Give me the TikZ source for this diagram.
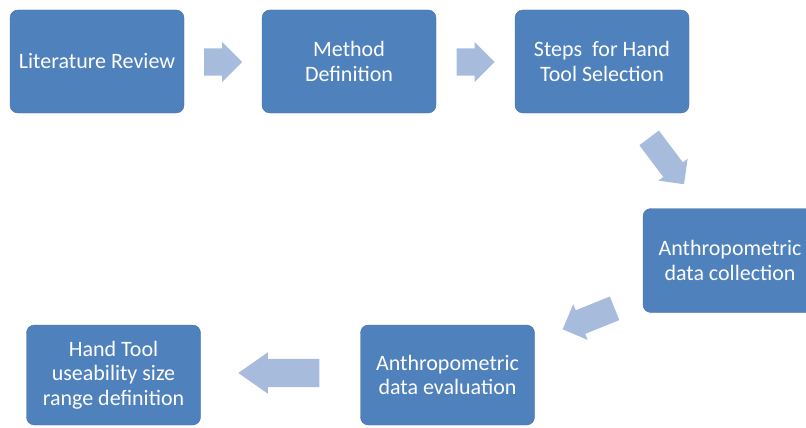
\documentclass[tikz,border=0pt]{standalone}
\usepackage{fontspec}
\setmainfont{Carlito}
\usepackage{xcolor}
\usepackage{tikz}
\usetikzlibrary{calc}
\usetikzlibrary{shapes.arrows}
\definecolor{boxColor}{RGB}{79,129,189}
\definecolor{arrowColor}{RGB}{167,187,221}

\begin{document}
\begin{tikzpicture}[x=1pt,y=-1pt,
	stage/.style={rectangle,rounded corners=8pt,draw=boxColor!85!black,thin,fill=boxColor,text=white,align=center,minimum width=174pt,minimum height=103pt,font=\fontsize{22}{24.5}\selectfont},
	flow/.style={single arrow,draw=none,fill=arrowColor,anchor=tail,inner xsep=0pt,inner ysep=13.5pt,single arrow head extend=6.5pt,single arrow tip angle=90,minimum height=38pt}]
\useasboundingbox (0,0) rectangle (806,428);
% top row
\node[stage] (lit) at (97,61.5) {Literature Review};
\node[stage] (method) at (349,61.5) {Method\\Definition};
\node[stage] (steps) at (602,61.5) {Steps\ \ for Hand\\Tool Selection};
% right
\node[stage,minimum height=104pt] (collect) at (730,260.5) {Anthropometric\\data collection};
% bottom row
\node[stage,minimum height=100pt] (eval) at (447.5,375) {Anthropometric\\data evaluation};
\node[stage,minimum height=100pt] (range) at (113.5,375) {Hand Tool\\useability size\\range definition};
%
\node[flow] (a1) at ($(lit.east)!0.5!(method.west)+(-19,0.5)$) {};
\node[flow] (a2) at ($(method.east)!0.5!(steps.west)+(-19,0.5)$) {};
\node[flow,minimum height=58pt,inner ysep=12pt,single arrow head extend=6pt,rotate=-53] (a3) at ($(steps.south)!0.5!(collect.north)+(-17,-23)$) {};
\node[flow,minimum height=56pt,inner ysep=12.5pt,single arrow head extend=6.5pt,rotate=202] (a4) at ($(collect.south)!0.5!(eval.north)+(26,-10.5)$) {};
\node[flow,minimum height=81pt,inner ysep=14pt,single arrow head extend=6.5pt,single arrow tip angle=70,rotate=180] (a5) at ($(eval.west)!0.5!(range.east)+(39,-2)$) {};
%
\end{tikzpicture}
\end{document}
